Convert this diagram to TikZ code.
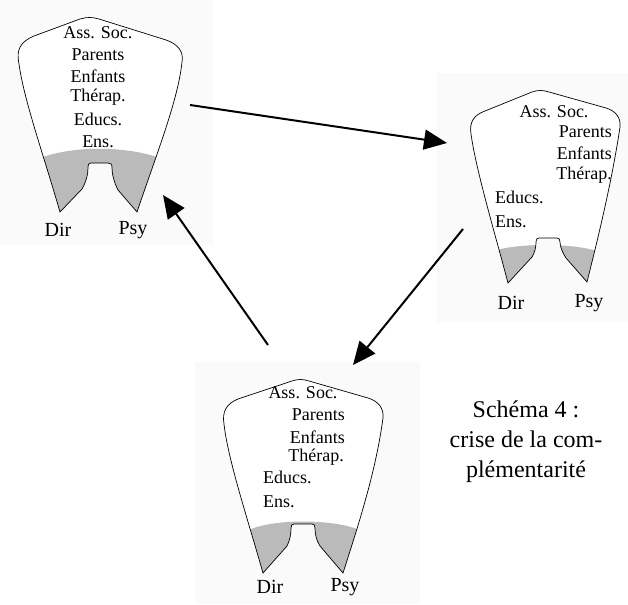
\documentclass[tikz,border=0pt]{standalone}
\usepackage{fontspec}
\setmainfont{Liberation Serif}
\usetikzlibrary{arrows.meta}
% contours des trois dents
\def\dentA{(60,212) .. controls (42,150) and (24,100) .. (19,64) .. controls (16,50) and (20,42) .. (34,36) -- (80,19) .. controls (87,17) and (92,17) .. (99,19) -- (166,40) .. controls (178,44) and (184,52) .. (182,62) .. controls (178,100) and (158,150) .. (137,212) -- (118,190) .. controls (114,182) and (112,174) .. (112,168) .. controls (112,164) and (111,163) .. (108,163) -- (91,163) .. controls (89,163) and (88,164) .. (88,168) .. controls (88,175) and (86,182) .. (82,189) -- cycle}
\def\dentB{(508,283) .. controls (494,230) and (476,170) .. (471,134) .. controls (469,122) and (474,115) .. (485,111) -- (532,92) .. controls (538,90) and (543,90) .. (549,92) -- (606,108) .. controls (616,111) and (621,118) .. (620,127) .. controls (612,180) and (600,230) .. (587,282) -- (566,258) .. controls (562,252) and (560,246) .. (560,242) .. controls (560,239) and (559,238) .. (557,238) -- (539,238) .. controls (537,238) and (536,239) .. (536,242) .. controls (536,247) and (535,252) .. (532,257) -- cycle}
\def\dentC{(263,573) .. controls (248,520) and (228,460) .. (224,424) .. controls (222,412) and (226,404) .. (238,399) -- (292,381) .. controls (298,379) and (303,379) .. (309,381) -- (368,398) .. controls (378,401) and (384,408) .. (383,418) .. controls (376,470) and (360,520) .. (343,573) -- (320,546) .. controls (316,540) and (315,533) .. (315,528) .. controls (315,525) and (314,524) .. (312,524) -- (294,524) .. controls (292,524) and (291,525) .. (291,528) .. controls (291,534) and (290,540) .. (287,546) -- cycle}
\begin{document}
\begin{tikzpicture}[x=1pt,y=-1pt,
  dent/.style={draw=black,line width=0.7pt},
  couronne/.style={fill=black!27},
  fond/.style={fill=black!2},
  txt/.style={inner sep=0pt,font=\fontsize{18}{22}\selectfont},
  racine/.style={inner sep=0pt,font=\fontsize{20}{24}\selectfont},
  fleche/.style={line width=2pt,-{Triangle[length=23pt,width=20pt]}}]
\useasboundingbox (0,0) rectangle (628,604);
\fill[fond] (0,0) rectangle (213,245);
\fill[fond] (437,73) rectangle (628,322);
\fill[fond] (195,362) rectangle (420,604);

% dent du haut
\fill[white] \dentA;
\begin{scope}
\clip \dentA;
\fill[couronne] (0,160) -- (43,157) .. controls (75,146) and (123,146) .. (157,157) -- (200,160) -- (200,230) -- (0,230) -- cycle;
\end{scope}
\draw[dent] \dentA;
\node[txt] (assA) at (98,33) {Ass. Soc.};
\node[txt] (parA) at (98,55) {Parents};
\node[txt] (enfA) at (98,76) {Enfants};
\node[txt] (therA) at (98,97) {Thérap.};
\node[txt] (eduA) at (98,119) {Educs.};
\node[txt] (ensA) at (98,142) {Ens.};
\node[racine] (dirA) at (58,230) {Dir};
\node[racine] (psyA) at (133,230) {Psy};

% dent de droite
\fill[white] \dentB;
\begin{scope}
\clip \dentB;
\fill[couronne] (440,252) -- (497,250) .. controls (522,243) and (575,243) .. (600,252) -- (628,252) -- (628,300) -- (440,300) -- cycle;
\end{scope}
\draw[dent] \dentB;
\node[txt] (assB) at (554,112) {Ass. Soc.};
\node[txt,anchor=east] (parB) at (612,132) {Parents};
\node[txt,anchor=east] (enfB) at (612,153) {Enfants};
\node[txt,anchor=east] (therB) at (612,175) {Thérap.};
\node[txt,anchor=west] (eduB) at (495,197) {Educs.};
\node[txt,anchor=west] (ensB) at (495,222) {Ens.};
\node[racine] (dirB) at (511,303) {Dir};
\node[racine] (psyB) at (589,303) {Psy};

% dent du bas
\fill[white] \dentC;
\begin{scope}
\clip \dentC;
\fill[couronne] (200,530) -- (251,529) .. controls (276,519) and (330,519) .. (357,529) -- (400,530) -- (400,590) -- (200,590) -- cycle;
\end{scope}
\draw[dent] \dentC;
\node[txt] (assC) at (303,393) {Ass. Soc.};
\node[txt,anchor=east] (parC) at (345,415) {Parents};
\node[txt,anchor=east] (enfC) at (345,437) {Enfants};
\node[txt,anchor=east] (therC) at (344,457) {Thérap.};
\node[txt,anchor=west] (eduC) at (263,477) {Educs.};
\node[txt,anchor=west] (ensC) at (263,502) {Ens.};
\node[racine] (dirC) at (270,587) {Dir};
\node[racine] (psyC) at (345,587) {Psy};

% fleches
\coordinate (hautD) at (190,105);
\coordinate (droiteG) at (447,143);
\coordinate (droiteB) at (463,229);
\coordinate (basH) at (353,365);
\coordinate (basG) at (268,345);
\coordinate (hautB) at (163,195);
\draw[fleche] (hautD) -- (droiteG);
\draw[fleche] (droiteB) -- (basH);
\draw[fleche] (basG) -- (hautB);

\node[align=center,inner sep=0pt,font=\fontsize{24}{30}\selectfont] (legende) at (526,442) {Schéma 4 :\\crise de la com-\\plémentarité};
\end{tikzpicture}
\end{document}
